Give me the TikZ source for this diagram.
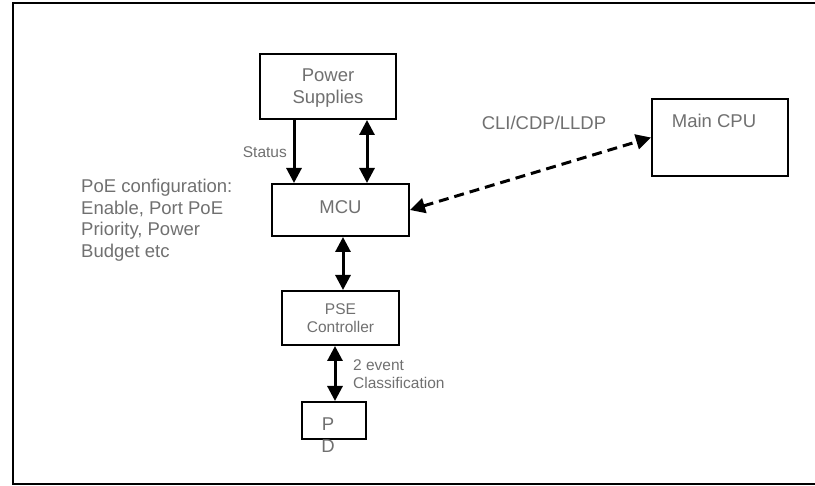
\documentclass[tikz,border=0pt]{standalone}
\usepackage{fontspec}
\setmainfont{Liberation Sans}
\usetikzlibrary{arrows.meta}
\definecolor{txt}{RGB}{112,112,112}
\tikzset{
  box/.style={draw=black, line width=2pt, fill=white, inner sep=0pt},
  lbl/.style={text=txt, inner sep=0pt, font=\fontsize{18.5}{21.5}\selectfont},
  small/.style={text=txt, inner sep=0pt, font=\fontsize{15.5}{18}\selectfont},
  tip/.tip={Triangle[width=15pt,length=15pt]},
  link/.style={line width=3pt, -tip},
  dlink/.style={line width=3pt, tip-tip},
}
\begin{document}
\begin{tikzpicture}[x=1pt,y=-1pt]
  \useasboundingbox (0,0) rectangle (815,486);
  % outer frame, open past the right edge
  \draw[line width=2pt] (13,3) rectangle (830,484);

  % blocks
  \node[box, minimum width=136pt, minimum height=65pt] (ps) at (328,86.5) {};
  \node[lbl, align=center] (pst) at (328,88) {Power\\Supplies};
  \node[box, minimum width=137pt, minimum height=52pt] (mcu) at (340.5,210) {};
  \node[lbl] (mcut) at (340.5,207) {MCU};
  \node[box, minimum width=117pt, minimum height=54pt] (pse) at (340.5,318) {};
  \node[small, align=center] (pset) at (340.5,318) {PSE\\Controller};
  \node[box, minimum width=64pt, minimum height=37pt] (pd) at (334,420.5) {};
  \node[lbl, align=center] (pdt) at (328,435) {P\\D};
  \node[box, minimum width=136pt, minimum height=77pt] (cpu) at (720,137.5) {};
  \node[lbl] (cput) at (714,121) {Main CPU};

  % x positions of the vertical links
  \coordinate (xs) at (294,0);
  \coordinate (xb) at (367,0);
  \coordinate (xm) at (343,0);
  \coordinate (xp) at (335,0);

  % links
  \draw[link] (ps.south -| xs) -- (mcu.north -| xs);
  \draw[dlink] (ps.south -| xb) -- (mcu.north -| xb);
  \draw[dlink] (mcu.south -| xm) -- (pse.north -| xm);
  \draw[dlink] (pse.south -| xp) -- (pd.north -| xp);
  \draw[dlink, dash pattern=on 10pt off 6pt] (mcu.east) -- (cpu.west);

  % labels
  \node[small, anchor=east] (st) at (287,152) {Status};
  \node[lbl, align=left, anchor=west] (cfg) at (81,220) {PoE configuration:\\Enable, Port PoE\\Priority, Power\\Budget etc};
  \node[small, align=left, anchor=west] (ev) at (353,374) {2 event\\Classification};
  \node[lbl] (cli) at (544,123) {CLI/CDP/LLDP};
\end{tikzpicture}
\end{document}
